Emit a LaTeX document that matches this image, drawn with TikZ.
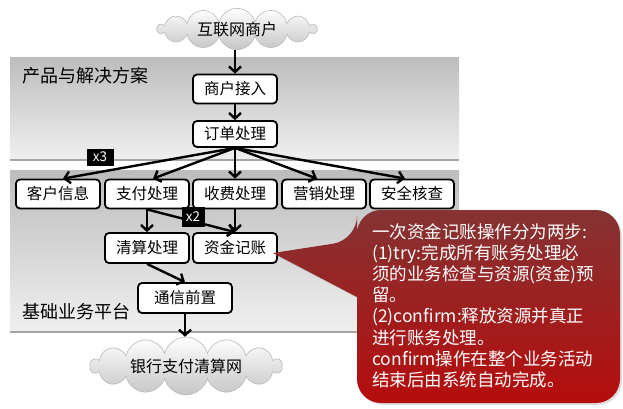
\documentclass[tikz,border=0pt]{standalone}
\usepackage{fontspec}
\setmainfont{Noto Sans CJK SC}
\usetikzlibrary{shapes.symbols,arrows.meta,shadows}
\begin{document}
\begin{tikzpicture}[x=1pt,y=-1pt,
  box/.style={draw=black,line width=1.8pt,rounded corners=4pt,fill=white,
    minimum width=84pt,minimum height=29pt,inner sep=0pt,
    font=\fontsize{15.5}{18}\selectfont},
  arr/.style={line width=2.4pt,-{Straight Barb[length=5.5pt,width=12pt]}},
  cloudnode/.style={cloud,cloud puffs=14,aspect=5,draw=gray!55,line width=0.6pt,
    top color=white,bottom color=gray!45,inner sep=0pt,
    font=\fontsize{16}{18}\selectfont},
  tag/.style={fill=black,text=white,inner sep=0pt,font=\fontsize{13.5}{15}\selectfont},
  bandlabel/.style={anchor=west,inner sep=0pt,font=\fontsize{18}{20}\selectfont},
  band/.style={top color=gray!52,bottom color=gray!12},
  bandline/.style={draw=gray!70,line width=1.4pt}
]
\useasboundingbox (0,0) rectangle (623,408);
% bands
\shade[band] (10,57) rectangle (459,160);
\draw[bandline] (10,160) -- (459,160);
\shade[band] (10,170) rectangle (459,332);
\draw[bandline] (10,332) -- (459,332);
\node[bandlabel] (lab1) at (22,76) {产品与解决方案};
\node[bandlabel] (lab2) at (22,312) {基础业务平台};

% clouds
\node[cloudnode,minimum width=159pt,minimum height=32pt] (cl1) at (237,29) {互联网商户};
\node[cloudnode,minimum width=192pt,minimum height=35pt] (cl2) at (186,366) {银行支付清算网};

% boxes
\node[box] (n1) at (235,89) {商户接入};
\node[box,minimum height=26pt] (n2) at (235,134) {订单处理};
\node[box] (c1) at (58,194) {客户信息};
\node[box] (c2) at (147,194) {支付处理};
\node[box] (c3) at (235,194) {收费处理};
\node[box] (c4) at (324,194) {营销处理};
\node[box] (c5) at (412,194) {安全核查};
\node[box,minimum height=30pt] (d1) at (147,248) {清算处理};
\node[box,minimum height=30pt] (d2) at (235,248) {资金记账};
\node[box,minimum width=94pt,minimum height=30pt] (e1) at (185,298) {通信前置};

% arrows
\draw[arr] (n1.north |- cl1.south) -- (n1.north);
\draw[arr] (n1.south) -- (n2.north);
\draw[arr] (n2.south) -- ([xshift=5pt]c1.north);
\draw[arr] (n2.south) -- ([xshift=6pt]c2.north);
\draw[arr] (n2.south) -- (c3.north);
\draw[arr] (n2.south) -- ([xshift=-7pt]c4.north);
\draw[arr] (n2.south) -- ([xshift=-7pt]c5.north);
\draw[arr] (c2.south) -- (d1.north);
\draw[arr] (c2.south) -- (d2.north);
\draw[arr] (c3.south) -- (d2.north);
\draw[arr] (d1.south) -- (e1.north);
\draw[arr] (e1.south) -- (e1.south |- cl2.north);

% tags
\node[tag,minimum width=27pt,minimum height=17pt] (t3) at (100,157) {x3};
\node[tag,minimum width=23pt,minimum height=20pt] (t2) at (193,217) {x2};

% callout
\shade[top color=red!40!black!80!white,bottom color=red!70!black!95!white,
  drop shadow={opacity=0.25,shadow xshift=2pt,shadow yshift=-2pt}]
  (357,240) [sharp corners] -- (273,253) -- (357,297) [rounded corners=24pt]
  -- (357,403) -- (620,403) -- (620,210) -- (357,210) -- cycle;
\node[anchor=north west,inner sep=0pt,align=left,text=white,
  font=\fontsize{17.5}{21.2}\selectfont] (txt) at (372,223)
  {一次资金记账操作分为两步:\\
   (1)try:完成所有账务处理必\\
   须的业务检查与资源(资金)预\\
   留。\\
   (2)confirm:释放资源并真正\\
   进行账务处理。\\
   confirm操作在整个业务活动\\
   结束后由系统自动完成。};
\end{tikzpicture}
\end{document}
